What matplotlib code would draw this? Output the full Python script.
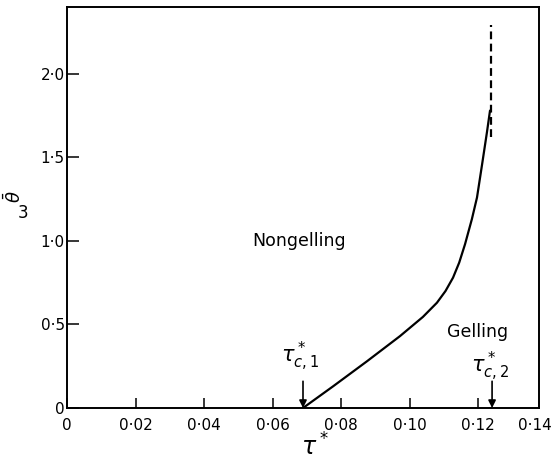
import matplotlib
matplotlib.use("Agg")
import matplotlib.pyplot as plt
from matplotlib.transforms import blended_transform_factory

# ---- data ----
tau_solid = [0.0689, 0.0777, 0.0876, 0.0972, 0.1039, 0.1080, 0.1105, 0.1127,
             0.1145, 0.1162, 0.1182, 0.1197, 0.1212, 0.1226, 0.1235]
theta_solid = [0.0, 0.13, 0.28, 0.43, 0.545, 0.63, 0.70, 0.78,
               0.87, 0.98, 1.13, 1.26, 1.46, 1.65, 1.78]
tau_dashed = [0.1238, 0.1238]
theta_dashed = [1.62, 2.29]

tau_c1 = 0.0689
tau_c2 = 0.1241

x_ticks = [0, 0.02, 0.04, 0.06, 0.08, 0.10, 0.12]
x_ticklabels = ["0", "0·02", "0·04", "0·06", "0·08", "0·10", "0·12"]
x_extra_label = "0·14"
y_ticks = [0, 0.5, 1.0, 1.5, 2.0]
y_ticklabels = ["0", "0·5", "1·0", "1·5", "2·0"]

plt.rcParams['font.family'] = ['DejaVu Sans']
plt.rcParams['mathtext.fontset'] = 'dejavusans'

W, H = 553, 462
fig = plt.figure(figsize=(W / 100, H / 100), dpi=100)
ax = fig.add_axes([67 / W, (H - 408) / H, (539 - 67) / W, (408 - 7) / H])

ax.plot(tau_solid, theta_solid, color='k', lw=1.6, solid_capstyle='round',
        solid_joinstyle='round')
ax.plot(tau_dashed, theta_dashed, color='k', lw=1.6, linestyle=(0, (3.5, 2)))

ax.set_xlim(0, 0.1378)
ax.set_ylim(0, 2.40)

ax.set_xticks(x_ticks)
ax.set_xticklabels(x_ticklabels)
ax.set_yticks(y_ticks)
ax.set_yticklabels(y_ticklabels)
ax.tick_params(axis='x', direction='in', length=7, width=1.1, pad=7, labelsize=11)
ax.tick_params(axis='y', direction='in', length=8.5, width=1.1, pad=1.5, labelsize=11)
for s in ax.spines.values():
    s.set_linewidth(1.4)

# the last x tick label sits just past the right frame, at the figure edge
fig.text(552 / W, 1 - 426 / H, x_extra_label, fontsize=11, ha='right', va='center')

# axis labels
fig.text(315 / W, 1 - 447 / H, r'$\tau^*$', fontsize=17, ha='center', va='center')
fig.text(14 / W, 1 - 197 / H, r'$\bar{\theta}$', fontsize=13, rotation=90,
         ha='center', va='center')
fig.text(23 / W, 1 - 213 / H, '3', fontsize=12, ha='center', va='center')

# region labels
ax.text(0.054, 1.0, 'Nongelling', fontsize=12.5, ha='left', va='center')
ax.text(0.111, 0.455, 'Gelling', fontsize=12.5, ha='left', va='center')

# critical points
for tc in (tau_c1, tau_c2):
    ax.annotate('', xy=(tc, 0), xytext=(tc, 0.16),
                arrowprops=dict(arrowstyle='-|>', color='k', lw=1.2, mutation_scale=11,
                                shrinkA=0, shrinkB=0))
ax.text(0.068, 0.31, r'$\tau^*_{c,1}$', fontsize=15, ha='center', va='center')
ax.text(0.1235, 0.25, r'$\tau^*_{c,2}$', fontsize=15, ha='center', va='center')

fig.savefig('out.png', dpi=100)
